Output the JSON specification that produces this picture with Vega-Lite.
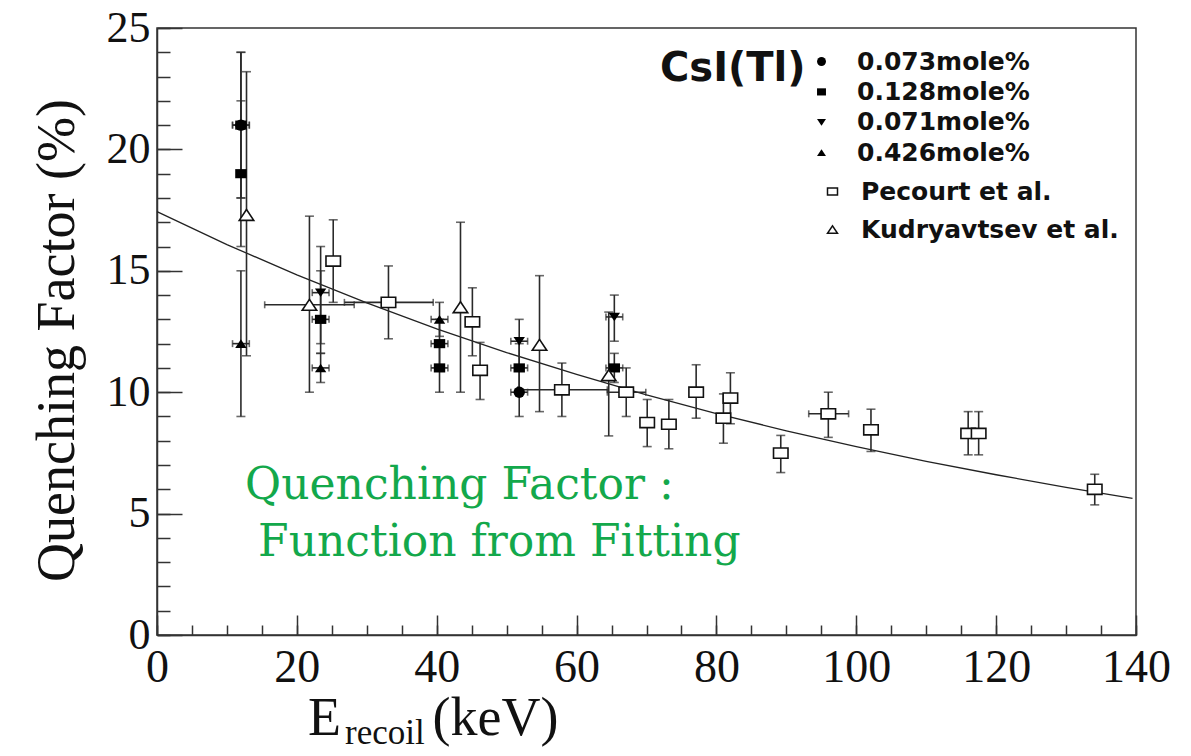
{
  "$schema": "https://vega.github.io/schema/vega-lite/v6.json",
  "width": 979,
  "height": 607,
  "autosize": {"type": "none"},
  "padding": {"left": 157, "top": 28, "right": 55, "bottom": 121},
  "background": "white",
  "config": {"view": {"stroke": "#333", "strokeWidth": 1.5}, "font": "Liberation Serif"},
  "datasets": {
    "pts": [
      {"series": "0.073mole%", "group": "CsI", "E": 12.0, "Q": 21.0, "ylo": 18.0, "yhi": 24.0, "xlo": 10.8, "xhi": 13.2},
      {"series": "0.073mole%", "group": "CsI", "E": 51.8, "Q": 10.0, "ylo": 9.0, "yhi": 11.0, "xlo": 50.6, "xhi": 53.0},
      {"series": "0.128mole%", "group": "CsI", "E": 12.0, "Q": 21.0, "ylo": 18.0, "yhi": 24.0, "xlo": 10.8, "xhi": 13.2},
      {"series": "0.128mole%", "group": "CsI", "E": 12.0, "Q": 19.0, "ylo": 16.0, "yhi": 22.0, "xlo": null, "xhi": null},
      {"series": "0.128mole%", "group": "CsI", "E": 23.4, "Q": 13.0, "ylo": 11.6, "yhi": 15.0, "xlo": 22.2, "xhi": 24.6},
      {"series": "0.128mole%", "group": "CsI", "E": 40.4, "Q": 12.0, "ylo": 11.0, "yhi": 13.0, "xlo": 39.2, "xhi": 41.6},
      {"series": "0.128mole%", "group": "CsI", "E": 40.4, "Q": 11.0, "ylo": 10.0, "yhi": 12.0, "xlo": 39.2, "xhi": 41.6},
      {"series": "0.128mole%", "group": "CsI", "E": 51.8, "Q": 11.0, "ylo": 10.0, "yhi": 12.0, "xlo": 50.6, "xhi": 53.0},
      {"series": "0.128mole%", "group": "CsI", "E": 65.4, "Q": 11.0, "ylo": 10.4, "yhi": 11.6, "xlo": 64.2, "xhi": 66.6},
      {"series": "0.071mole%", "group": "CsI", "E": 23.4, "Q": 14.1, "ylo": 12.0, "yhi": 16.0, "xlo": 22.2, "xhi": 24.6},
      {"series": "0.071mole%", "group": "CsI", "E": 51.8, "Q": 12.1, "ylo": 11.0, "yhi": 13.0, "xlo": 50.6, "xhi": 53.0},
      {"series": "0.071mole%", "group": "CsI", "E": 65.4, "Q": 13.1, "ylo": 12.1, "yhi": 14.0, "xlo": 64.2, "xhi": 66.6},
      {"series": "0.426mole%", "group": "CsI", "E": 12.0, "Q": 12.0, "ylo": 9.0, "yhi": 15.0, "xlo": 10.8, "xhi": 13.2},
      {"series": "0.426mole%", "group": "CsI", "E": 23.4, "Q": 11.0, "ylo": 10.4, "yhi": 11.6, "xlo": 22.2, "xhi": 24.6},
      {"series": "0.426mole%", "group": "CsI", "E": 40.4, "Q": 13.0, "ylo": 12.3, "yhi": 13.7, "xlo": 39.2, "xhi": 41.6},
      {"series": "Pecourt et al.", "group": "lit", "E": 25.2, "Q": 15.4, "ylo": 13.7, "yhi": 17.1, "xlo": null, "xhi": null},
      {"series": "Pecourt et al.", "group": "lit", "E": 33.1, "Q": 13.7, "ylo": 12.2, "yhi": 15.2, "xlo": 26.8, "xhi": 39.5},
      {"series": "Pecourt et al.", "group": "lit", "E": 45.1, "Q": 12.9, "ylo": 11.5, "yhi": 14.3, "xlo": null, "xhi": null},
      {"series": "Pecourt et al.", "group": "lit", "E": 46.2, "Q": 10.9, "ylo": 9.7, "yhi": 12.05, "xlo": null, "xhi": null},
      {"series": "Pecourt et al.", "group": "lit", "E": 57.9, "Q": 10.1, "ylo": 9.0, "yhi": 11.2, "xlo": 51.6, "xhi": 64.4},
      {"series": "Pecourt et al.", "group": "lit", "E": 67.1, "Q": 10.0, "ylo": 9.0, "yhi": 11.0, "xlo": 64.4, "xhi": 69.9},
      {"series": "Pecourt et al.", "group": "lit", "E": 70.1, "Q": 8.75, "ylo": 7.76, "yhi": 9.7, "xlo": null, "xhi": null},
      {"series": "Pecourt et al.", "group": "lit", "E": 73.2, "Q": 8.68, "ylo": 7.67, "yhi": 9.7, "xlo": null, "xhi": null},
      {"series": "Pecourt et al.", "group": "lit", "E": 77.1, "Q": 10.0, "ylo": 8.93, "yhi": 11.13, "xlo": null, "xhi": null},
      {"series": "Pecourt et al.", "group": "lit", "E": 81.0, "Q": 8.93, "ylo": 7.9, "yhi": 9.93, "xlo": null, "xhi": null},
      {"series": "Pecourt et al.", "group": "lit", "E": 82.0, "Q": 9.76, "ylo": 8.7, "yhi": 10.8, "xlo": null, "xhi": null},
      {"series": "Pecourt et al.", "group": "lit", "E": 89.2, "Q": 7.49, "ylo": 6.69, "yhi": 8.22, "xlo": null, "xhi": null},
      {"series": "Pecourt et al.", "group": "lit", "E": 96.0, "Q": 9.11, "ylo": 8.14, "yhi": 10.0, "xlo": 93.2, "xhi": 98.9},
      {"series": "Pecourt et al.", "group": "lit", "E": 102.1, "Q": 8.45, "ylo": 7.56, "yhi": 9.3, "xlo": null, "xhi": null},
      {"series": "Pecourt et al.", "group": "lit", "E": 116.0, "Q": 8.3, "ylo": 7.42, "yhi": 9.2, "xlo": null, "xhi": null},
      {"series": "Pecourt et al.", "group": "lit", "E": 117.5, "Q": 8.3, "ylo": 7.42, "yhi": 9.2, "xlo": null, "xhi": null},
      {"series": "Pecourt et al.", "group": "lit", "E": 134.1, "Q": 6.0, "ylo": 5.36, "yhi": 6.62, "xlo": null, "xhi": null},
      {"series": "Kudryavtsev et al.", "group": "lit", "E": 12.8, "Q": 17.3, "ylo": 11.5, "yhi": 23.2, "xlo": null, "xhi": null},
      {"series": "Kudryavtsev et al.", "group": "lit", "E": 21.8, "Q": 13.6, "ylo": 10.0, "yhi": 17.25, "xlo": 15.4, "xhi": 28.2},
      {"series": "Kudryavtsev et al.", "group": "lit", "E": 43.4, "Q": 13.5, "ylo": 10.0, "yhi": 17.0, "xlo": null, "xhi": null},
      {"series": "Kudryavtsev et al.", "group": "lit", "E": 54.7, "Q": 11.95, "ylo": 9.2, "yhi": 14.8, "xlo": null, "xhi": null},
      {"series": "Kudryavtsev et al.", "group": "lit", "E": 64.6, "Q": 10.7, "ylo": 8.2, "yhi": 13.3, "xlo": null, "xhi": null}
    ],
    "fit": [
      {"E": 0, "Q": 17.44}, {"E": 10, "Q": 16.08}, {"E": 20, "Q": 14.83}, {"E": 30, "Q": 13.68},
      {"E": 40, "Q": 12.61}, {"E": 50, "Q": 11.63}, {"E": 60, "Q": 10.73}, {"E": 70, "Q": 9.89},
      {"E": 80, "Q": 9.12}, {"E": 90, "Q": 8.41}, {"E": 100, "Q": 7.76}, {"E": 110, "Q": 7.15},
      {"E": 120, "Q": 6.6}, {"E": 130, "Q": 6.08}, {"E": 139.5, "Q": 5.63}
    ]
  },
  "resolve": {"axis": {"x": "independent", "y": "independent"}, "scale": {"shape": "independent"}, "legend": {"shape": "independent"}},
  "layer": [
    {
      "data": {"name": "fit"},
      "mark": {"type": "line", "color": "#222", "strokeWidth": 1.3},
      "encoding": {
        "x": {"field": "E", "type": "quantitative", "scale": {"domain": [0, 140], "nice": false},
          "axis": {"orient": "bottom", "values": [0,20,40,60,80,100,120,140], "tickSize": -20, "tickColor": "#333", "tickWidth": 1.5,
            "domainColor": "#333", "domainWidth": 1.5, "labelFont": "Liberation Serif", "labelFontSize": 46, "labelColor": "#111",
            "labelPadding": 30, "labelOverlap": false, "labelFlush": false, "grid": false, "title": null}},
        "y": {"field": "Q", "type": "quantitative", "scale": {"domain": [0, 25], "nice": false},
          "axis": {"orient": "left", "values": [0,5,10,15,20,25], "tickSize": -25, "tickColor": "#333", "tickWidth": 1.5,
            "domainColor": "#333", "domainWidth": 1.5, "labelFont": "Liberation Serif", "labelFontSize": 44, "labelColor": "#111",
            "labelPadding": 32, "labelOverlap": false, "labelFlush": false, "grid": false,
            "title": "Quenching Factor (%)", "titleFont": "Liberation Serif", "titleFontSize": 54, "titleFontWeight": "normal",
            "titleColor": "#111", "titleAngle": -90, "titleAlign": "center", "titleBaseline": "middle", "titleX": -100, "titleY": 312}}
      }
    },
    {
      "data": {"name": "fit"},
      "mark": {"type": "line", "opacity": 0},
      "encoding": {
        "x": {"field": "E", "type": "quantitative",
          "axis": {"orient": "bottom", "values": [0,5,10,15,20,25,30,35,40,45,50,55,60,65,70,75,80,85,90,95,100,105,110,115,120,125,130,135,140],
            "tickSize": -10, "tickColor": "#333", "tickWidth": 1.5, "labels": false, "domain": false, "grid": false, "title": null}},
        "y": {"field": "Q", "type": "quantitative",
          "axis": {"orient": "left", "values": [0,1,2,3,4,5,6,7,8,9,10,11,12,13,14,15,16,17,18,19,20,21,22,23,24,25],
            "tickSize": -13, "tickColor": "#333", "tickWidth": 1.5, "labels": false, "domain": false, "grid": false, "title": null}}
      }
    },
    {
      "data": {"name": "pts"},
      "mark": {"type": "errorbar", "ticks": true, "size": 9, "thickness": 1.6, "color": "#2a2a2a"},
      "encoding": {
        "x": {"field": "E", "type": "quantitative", "axis": null},
        "y": {"field": "ylo", "type": "quantitative", "axis": null},
        "y2": {"field": "yhi"}
      }
    },
    {
      "data": {"name": "pts"},
      "transform": [{"filter": "datum.xlo != null"}],
      "mark": {"type": "errorbar", "ticks": true, "size": 7, "thickness": 1.6, "color": "#2a2a2a"},
      "encoding": {
        "y": {"field": "Q", "type": "quantitative", "axis": null},
        "x": {"field": "xlo", "type": "quantitative", "axis": null},
        "x2": {"field": "xhi"}
      }
    },
    {
      "data": {"name": "pts"},
      "transform": [{"filter": "datum.group === 'CsI'"}],
      "mark": {"type": "point", "filled": true, "color": "#000", "size": 130, "opacity": 1},
      "encoding": {
        "x": {"field": "E", "type": "quantitative", "axis": null},
        "y": {"field": "Q", "type": "quantitative", "axis": null},
        "shape": {"field": "series", "type": "nominal",
          "scale": {"domain": ["0.073mole%", "0.128mole%", "0.071mole%", "0.426mole%"],
            "range": ["circle", "M-1,-0.8H1V0.8H-1Z", "M-1,-0.75L1,-0.75L0,0.75Z", "M-1,0.75L1,0.75L0,-0.75Z"]},
          "legend": {"title": "CsI(Tl)", "orient": "none", "legendX": 503, "legendY": 21, "titleOrient": "left", "titleAnchor": "start",
            "titleFont": "DejaVu Sans", "titleFontSize": 40, "titleFontWeight": "bold", "titleColor": "#111", "titlePadding": 3, "titleLimit": 400,
            "labelFont": "DejaVu Sans", "labelFontSize": 25, "labelFontWeight": "bold", "labelColor": "#111", "labelOffset": 23, "labelLimit": 400,
            "symbolSize": 80, "symbolFillColor": "#000", "symbolStrokeColor": "#000", "symbolStrokeWidth": 0, "rowPadding": 4.4, "padding": 0}}
      }
    },
    {
      "data": {"name": "pts"},
      "transform": [{"filter": "datum.group === 'lit'"}],
      "mark": {"type": "point", "filled": true, "fill": "white", "stroke": "#111", "strokeWidth": 1.6, "size": 210, "opacity": 1},
      "encoding": {
        "x": {"field": "E", "type": "quantitative", "axis": null},
        "y": {"field": "Q", "type": "quantitative", "axis": null},
        "shape": {"field": "series", "type": "nominal",
          "scale": {"domain": ["Pecourt et al.", "Kudryavtsev et al."], "range": ["M-1,-0.7H1V0.7H-1Z", "M-1,0.75L1,0.75L0,-0.75Z"]},
          "legend": {"title": null, "orient": "none", "legendX": 663, "legendY": 151,
            "labelFont": "DejaVu Sans", "labelFontSize": 25, "labelFontWeight": "bold", "labelColor": "#111", "labelOffset": 16, "labelLimit": 400,
            "symbolSize": 100, "rowPadding": 12, "padding": 0,
            "encode": {"symbols": {"update": {"fill": {"value": "white"}, "stroke": {"value": "#111"}, "strokeWidth": {"value": 1.5}, "opacity": {"value": 1}}}}}}
      }
    },
    {
      "data": {"values": [{}]},
      "mark": {"type": "text", "text": "Quenching Factor :", "font": "DejaVu Serif", "fontSize": 44, "color": "#13a84b", "align": "left", "baseline": "alphabetic"},
      "encoding": {"x": {"datum": 12.6, "type": "quantitative", "axis": null}, "y": {"datum": 5.61, "type": "quantitative", "axis": null}}
    },
    {
      "data": {"values": [{}]},
      "mark": {"type": "text", "text": "Function from Fitting", "font": "DejaVu Serif", "fontSize": 44, "color": "#13a84b", "align": "left", "baseline": "alphabetic"},
      "encoding": {"x": {"datum": 14.46, "type": "quantitative", "axis": null}, "y": {"datum": 3.26, "type": "quantitative", "axis": null}}
    },
    {
      "data": {"values": [{}]},
      "mark": {"type": "text", "text": "E", "font": "Liberation Serif", "fontSize": 54, "color": "#111", "align": "left", "baseline": "alphabetic"},
      "encoding": {"x": {"datum": 21.6, "type": "quantitative", "axis": null}, "y": {"datum": -4.12, "type": "quantitative", "axis": null}}
    },
    {
      "data": {"values": [{}]},
      "mark": {"type": "text", "text": "recoil", "font": "Liberation Serif", "fontSize": 35, "color": "#111", "align": "left", "baseline": "alphabetic"},
      "encoding": {"x": {"datum": 26.9, "type": "quantitative", "axis": null}, "y": {"datum": -4.5, "type": "quantitative", "axis": null}}
    },
    {
      "data": {"values": [{}]},
      "mark": {"type": "text", "text": "(keV)", "font": "Liberation Serif", "fontSize": 54, "color": "#111", "align": "left", "baseline": "alphabetic"},
      "encoding": {"x": {"datum": 39.4, "type": "quantitative", "axis": null}, "y": {"datum": -4.12, "type": "quantitative", "axis": null}}
    }
  ]
}
